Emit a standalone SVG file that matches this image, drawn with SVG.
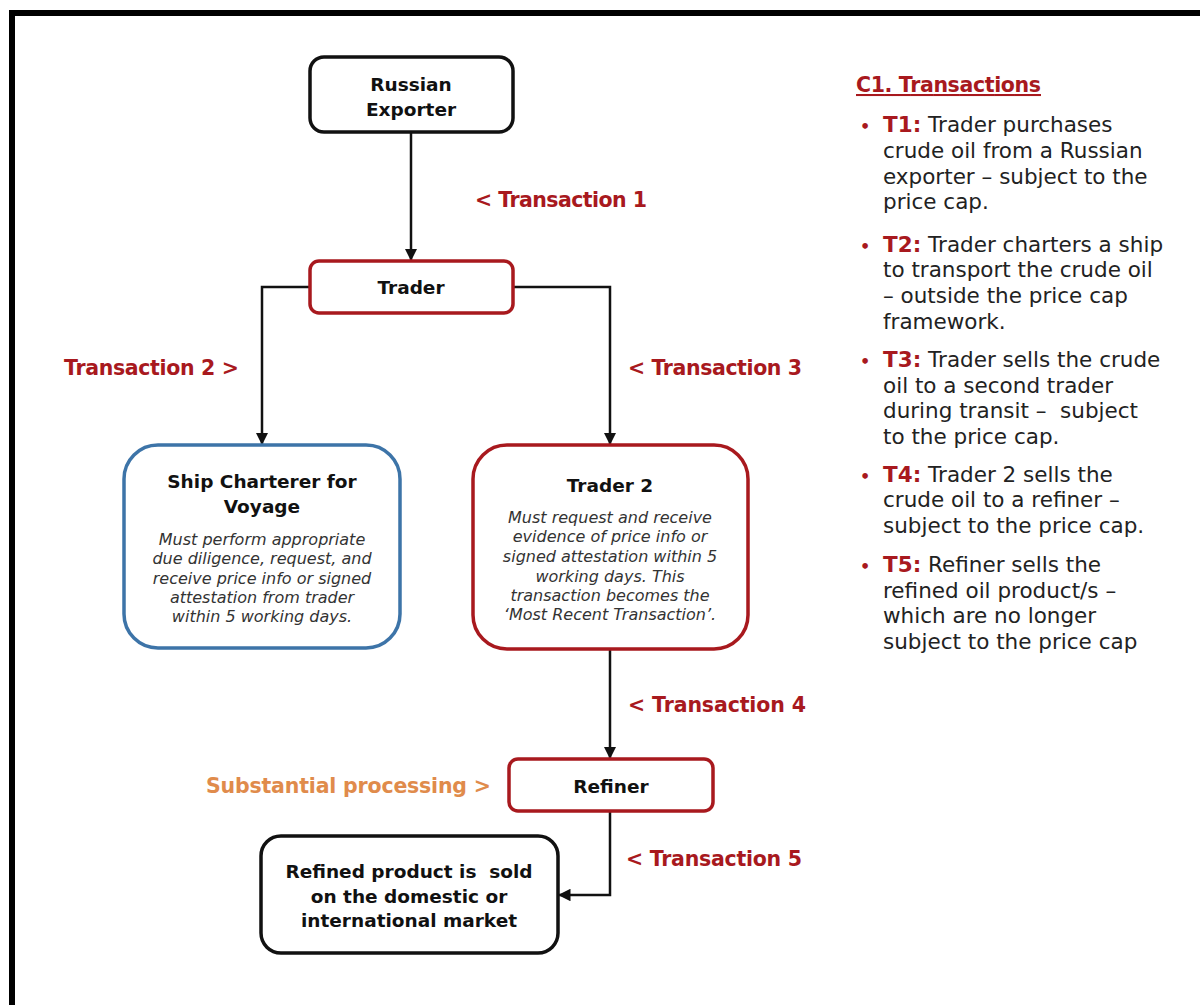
<svg xmlns="http://www.w3.org/2000/svg" width="1200" height="1005" viewBox="0 0 1200 1005">
<defs>
<style>
.box{fill:#fff;stroke-width:3.5}
.blk{stroke:#111}
.red{stroke:#a8191e}
.blu{stroke:#3d74a8}
.title{font-family:"DejaVu Sans","Liberation Sans",sans-serif;font-weight:700;font-size:18.5px;fill:#111;text-anchor:middle}
.desc{font-family:"DejaVu Sans","Liberation Sans",sans-serif;font-style:italic;font-size:16px;fill:#333;text-anchor:middle}
.lbl{font-family:"DejaVu Sans","Liberation Sans",sans-serif;font-weight:700;font-size:20.5px;fill:#a8191e}
.org{fill:#e08b4b}
.body{font-family:"DejaVu Sans","Liberation Sans",sans-serif;font-size:21.5px;fill:#222}
.bt{font-weight:700;fill:#a8191e}
.conn{fill:none;stroke:#111;stroke-width:2.5}
</style>
<marker id="ah" viewBox="0 0 10 10" refX="10" refY="5" markerWidth="5" markerHeight="5" orient="auto" markerUnits="strokeWidth">
<path d="M0,0 L10,5 L0,10 z" fill="#111"/>
</marker>
</defs>
<rect x="0" y="0" width="1200" height="1005" fill="#fff"/>
<rect x="12" y="13" width="1200" height="1000" fill="none" stroke="#000" stroke-width="6"/>

<g id="connectors">
<path class="conn" d="M411,132 V261" marker-end="url(#ah)"/>
<path class="conn" d="M310,287 H262 V445" marker-end="url(#ah)"/>
<path class="conn" d="M513,287 H610 V445" marker-end="url(#ah)"/>
<path class="conn" d="M610,649 V759" marker-end="url(#ah)"/>
<path class="conn" d="M610,811 V895 H558" marker-end="url(#ah)"/>
</g>

<g id="russian-exporter">
<rect class="box blk" x="310" y="57" width="203" height="75" rx="14"/>
<text class="title" x="411" y="91">Russian</text>
<text class="title" x="411" y="116">Exporter</text>
</g>

<g id="trader">
<rect class="box red" x="310" y="261" width="203" height="52" rx="9"/>
<text class="title" x="411" y="294">Trader</text>
</g>

<g id="ship-charterer">
<rect class="box blu" x="124" y="445" width="276" height="203" rx="34"/>
<text class="title" x="262" y="488">Ship Charterer for</text>
<text class="title" x="262" y="513">Voyage</text>
<text class="desc" x="262" y="545">Must perform appropriate</text>
<text class="desc" x="262" y="564">due diligence, request, and</text>
<text class="desc" x="262" y="584">receive price info or signed</text>
<text class="desc" x="262" y="603">attestation from trader</text>
<text class="desc" x="262" y="622">within 5 working days.</text>
</g>

<g id="trader-2">
<rect class="box red" x="473" y="445" width="275" height="204" rx="34"/>
<text class="title" x="610" y="492">Trader 2</text>
<text class="desc" x="610" y="523">Must request and receive</text>
<text class="desc" x="610" y="542">evidence of price info or</text>
<text class="desc" x="610" y="562">signed attestation within 5</text>
<text class="desc" x="610" y="582">working days. This</text>
<text class="desc" x="610" y="601">transaction becomes the</text>
<text class="desc" x="610" y="620">‘Most Recent Transaction’.</text>
</g>

<g id="refiner">
<rect class="box red" x="509" y="759" width="204" height="52" rx="9"/>
<text class="title" x="611" y="793">Refiner</text>
</g>

<g id="refined-product">
<rect class="box blk" x="261" y="836" width="297" height="117" rx="20"/>
<text class="title" x="409" y="878" xml:space="preserve">Refined product is  sold</text>
<text class="title" x="409" y="903">on the domestic or</text>
<text class="title" x="409" y="927">international market</text>
</g>

<g id="labels">
<text class="lbl" x="475" y="207" textLength="172">&lt; Transaction 1</text>
<text class="lbl" x="64" y="375" textLength="175">Transaction 2 &gt;</text>
<text class="lbl" x="628" y="375" textLength="174">&lt; Transaction 3</text>
<text class="lbl" x="628" y="712" textLength="178">&lt; Transaction 4</text>
<text class="lbl org" x="206" y="793" textLength="285">Substantial processing &gt;</text>
<text class="lbl" x="626" y="866" textLength="176">&lt; Transaction 5</text>
</g>

<g id="legend">
<text class="lbl" x="856" y="92" textLength="185" text-decoration="underline">C1. Transactions</text>
<g class="body">
<text x="860" y="132" class="bt" font-size="16">•</text>
<text x="883" y="132"><tspan class="bt">T1:</tspan> Trader purchases</text>
<text x="883" y="158">crude oil from a Russian</text>
<text x="883" y="184">exporter – subject to the</text>
<text x="883" y="209">price cap.</text>
<text x="860" y="252" class="bt" font-size="16">•</text>
<text x="883" y="252"><tspan class="bt">T2:</tspan> Trader charters a ship</text>
<text x="883" y="277">to transport the crude oil</text>
<text x="883" y="303">– outside the price cap</text>
<text x="883" y="329">framework.</text>
<text x="860" y="367" class="bt" font-size="16">•</text>
<text x="883" y="367"><tspan class="bt">T3:</tspan> Trader sells the crude</text>
<text x="883" y="393">oil to a second trader</text>
<text x="883" y="418" xml:space="preserve">during transit –  subject</text>
<text x="883" y="444">to the price cap.</text>
<text x="860" y="482" class="bt" font-size="16">•</text>
<text x="883" y="482"><tspan class="bt">T4:</tspan> Trader 2 sells the</text>
<text x="883" y="507">crude oil to a refiner –</text>
<text x="883" y="533">subject to the price cap.</text>
<text x="860" y="572" class="bt" font-size="16">•</text>
<text x="883" y="572"><tspan class="bt">T5:</tspan> Refiner sells the</text>
<text x="883" y="598">refined oil product/s –</text>
<text x="883" y="623">which are no longer</text>
<text x="883" y="649">subject to the price cap</text>
</g>
</g>
</svg>
